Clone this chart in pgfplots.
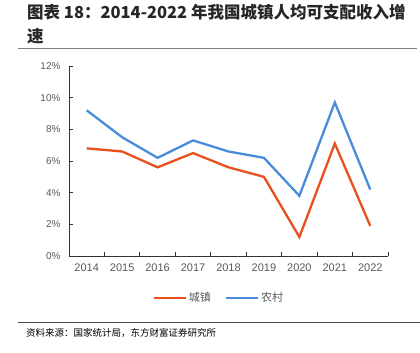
\documentclass[border=0pt]{standalone}
\usepackage{pgfplots}
\pgfplotsset{compat=1.18}
\usepackage{fontspec}
\setmainfont{Liberation Sans}
\newfontfamily\cjk{Noto Sans CJK SC}
\definecolor{uorange}{RGB}{232,80,30}
\definecolor{rblue}{RGB}{74,139,218}
\definecolor{tgray}{RGB}{89,89,89}
\begin{document}
\begin{tikzpicture}
\path[use as bounding box] (0pt,0pt) rectangle (420pt,353pt);
% title
\node[anchor=west,inner sep=0,text=black!85] at (27pt,341pt) {\cjk\bfseries\fontsize{16.5}{18}\selectfont 图表 18：2014-2022 年我国城镇人均可支配收入增};
\node[anchor=west,inner sep=0,text=black!85] at (27pt,317pt) {\cjk\bfseries\fontsize{16.5}{18}\selectfont 速};
\draw[gray,line width=1.8pt] (18pt,304.5pt) -- (417pt,304.5pt);
\draw[black!70,line width=1pt] (18pt,30.5pt) -- (420pt,30.5pt);
\node[anchor=west,inner sep=0] at (26pt,20pt) {\cjk\fontsize{9.5}{11}\selectfont 资料来源：国家统计局，东方财富证券研究所};
\begin{axis}[
  at={(69pt,97pt)}, anchor=origin,
  width=319pt, height=190pt, scale only axis,
  xmin=0, xmax=9, ymin=0, ymax=12,
  axis x line*=bottom, axis y line*=left,
  axis line style={black!80,line width=0.9pt},
  xtick={0.5,1.5,...,8.5},
  xticklabels={2014,2015,2016,2017,2018,2019,2020,2021,2022},
  major x tick style={draw=none},
  minor xtick={0,...,9},
  minor x tick style={black!80,line width=0.9pt},
  minor tick length=4pt,
  ytick={0,2,...,12},
  yticklabel={\pgfmathprintnumber{\tick}\%},
  major y tick style={black!80,line width=0.9pt},
  major tick length=3.5pt,
  tick align=inside,
  xticklabel style={font=\fontsize{11}{13}\selectfont, text=tgray, yshift=-4pt},
  yticklabel style={font=\fontsize{10}{12}\selectfont, text=tgray, xshift=-5pt},
  /pgf/number format/assume math mode=true,
  legend style={at={(0.47,-0.221)}, anchor=center, draw=none, fill=none,
    legend columns=2, font=\cjk\fontsize{11}{13}\selectfont, text=tgray,
    /tikz/every even column/.append style={column sep=12pt}},
  legend image code/.code={\draw[#1] (0pt,0pt) -- (32pt,0pt);},
  clip=false,
]
\addplot[uorange, line width=2.3pt] coordinates {(0.5,6.8)(1.5,6.6)(2.5,5.6)(3.5,6.5)(4.5,5.6)(5.5,5.0)(6.5,1.2)(7.5,7.1)(8.5,1.9)};
\addlegendentry{城镇}
\addplot[rblue, line width=2.3pt] coordinates {(0.5,9.2)(1.5,7.5)(2.5,6.2)(3.5,7.3)(4.5,6.6)(5.5,6.2)(6.5,3.8)(7.5,9.7)(8.5,4.2)};
\addlegendentry{农村}
\end{axis}
\end{tikzpicture}
\end{document}
